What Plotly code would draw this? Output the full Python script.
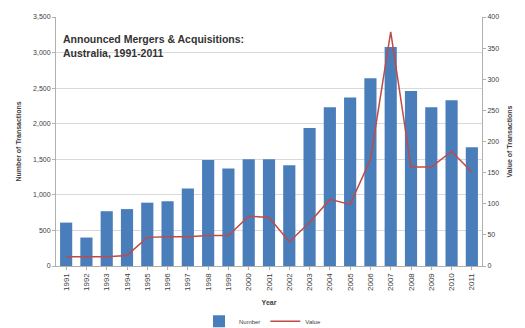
import plotly.graph_objects as go

# Announced M&A in Australia, 1991-2011
years = [str(y) for y in range(1991, 2012)]
num_transactions = [610, 400, 770, 800, 890, 910, 1090, 1490, 1370, 1500, 1500,
                    1415, 1940, 2230, 2370, 2640, 3080, 2460, 2230, 2330, 1670]
value_transactions = [15, 15, 15, 17, 46, 47, 47, 49, 49, 80, 78,
                      39, 70, 107, 99, 171, 376, 159, 159, 184, 151]
left_ticks = [0, 500, 1000, 1500, 2000, 2500, 3000, 3500]
right_ticks = [0, 50, 100, 150, 200, 250, 300, 350, 400]

BAR_BLUE = "#4a7ebb"
LINE_RED = "#be4b48"
AXIS_GREY = "#b0b0b0"
TEXT = "#404040"
FONT = "Liberation Sans"

fig = go.Figure()
fig.add_trace(go.Bar(
    x=years, y=num_transactions, name="Number",
    marker=dict(color=BAR_BLUE, line=dict(width=0)),
    yaxis="y",
))
fig.add_trace(go.Scatter(
    x=years, y=value_transactions, name="Value",
    mode="lines", line=dict(color=LINE_RED, width=1.5),
    yaxis="y2",
))

fig.update_layout(
    width=525, height=328,
    margin=dict(l=56, r=43, t=17, b=62),
    paper_bgcolor="white", plot_bgcolor="white",
    font=dict(family=FONT, size=7, color=TEXT),
    bargap=0.4,
    showlegend=True,
    legend=dict(orientation="h", xref="container", yref="container",
                x=0.5, xanchor="center", y=0.065, yanchor="top",
                font=dict(size=6, color=TEXT), itemwidth=30,
                bgcolor="rgba(0,0,0,0)"),
    xaxis=dict(
        type="category", tickangle=-90, showgrid=False, automargin=False,
        showline=True, linecolor=AXIS_GREY, linewidth=1,
        ticks="outside", ticklen=3, tickcolor=AXIS_GREY,
        tickfont=dict(size=8, color=TEXT),
        title=dict(text="<b>Year</b>", font=dict(size=7, color=TEXT), standoff=10),
    ),
    yaxis=dict(
        range=[0, 3500], tickvals=left_ticks, automargin=False,
        ticktext=[f"{v:,}" for v in left_ticks],
        showgrid=True, gridcolor="#d9d9d9", gridwidth=1,
        showline=True, linecolor=AXIS_GREY, linewidth=1,
        ticks="outside", ticklen=3, tickcolor=AXIS_GREY,
        tickfont=dict(size=7, color=TEXT), zeroline=False,
        title=dict(text="<b>Number of Transactions</b>", font=dict(size=7, color=TEXT), standoff=10),
    ),
    yaxis2=dict(
        range=[0, 400], tickvals=right_ticks, overlaying="y", side="right",
        automargin=False,
        showgrid=False, showline=True, linecolor=AXIS_GREY, linewidth=1,
        ticks="outside", ticklen=3, tickcolor=AXIS_GREY,
        tickfont=dict(size=7, color=TEXT), zeroline=False,
        title=dict(text="<b>Value of Transactions</b>", font=dict(size=7, color=TEXT), standoff=8),
    ),
    annotations=[dict(
        text="<b>Announced Mergers &amp; Acquisitions:<br>Australia, 1991-2011</b>",
        xref="paper", yref="paper", x=0.012, y=0.945,
        xanchor="left", yanchor="top", align="left", showarrow=False,
        font=dict(family=FONT, size=10.5, color="#333333"),
    )],
)

fig.write_html("out.html")
